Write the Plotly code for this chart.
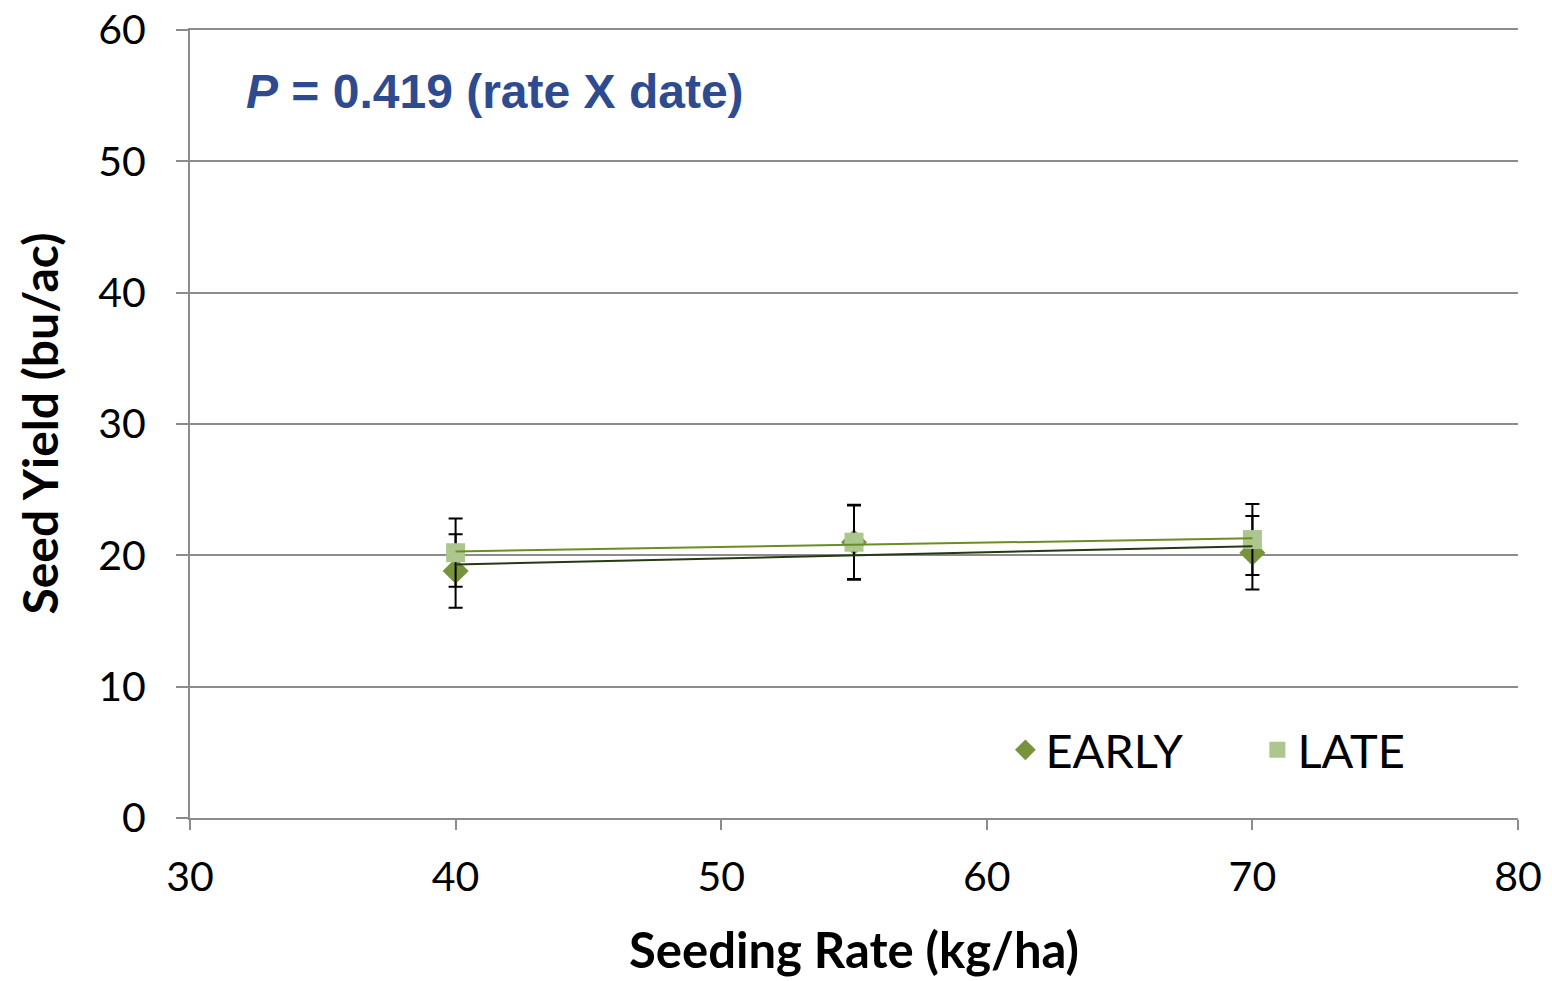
import numpy as np
import plotly.graph_objects as go

seeding_rate = [40, 55, 70]
early_yield = [18.8, 21.0, 20.2]
early_err = [2.8, 2.85, 2.8]
late_yield = [20.2, 21.0, 21.2]
late_err = [2.6, 2.8, 2.7]

x_ticks = [30, 40, 50, 60, 70, 80]
y_ticks = [0, 10, 20, 30, 40, 50, 60]

FONT = "Lato"

fig = go.Figure()

fig.add_trace(go.Scatter(
    x=seeding_rate, y=early_yield, mode="markers", name="EARLY",
    marker=dict(symbol="diamond", size=20, color="#77933C"),
    error_y=dict(type="data", array=early_err, visible=True, color="black", thickness=2, width=7),
))
fig.add_trace(go.Scatter(
    x=seeding_rate, y=late_yield, mode="markers", name="LATE",
    marker=dict(symbol="square", size=19, color="#ADC68E"),
    error_y=dict(type="data", array=late_err, visible=True, color="black", thickness=2, width=7),
))

# linear trendlines (as in the original spreadsheet chart)
xs = np.array([min(seeding_rate), max(seeding_rate)], dtype=float)
for vals, col in [(early_yield, "#253A14"), (late_yield, "#6B8E23")]:
    m, b = np.polyfit(seeding_rate, vals, 1)
    fig.add_trace(go.Scatter(x=xs, y=m * xs + b, mode="lines", showlegend=False,
                             line=dict(color=col, width=2), hoverinfo="skip"))

fig.update_layout(
    width=1552, height=981,
    margin=dict(l=190, r=34, t=30, b=163),
    plot_bgcolor="white", paper_bgcolor="white",
    font=dict(family=FONT, size=41, color="black"),
    showlegend=True,
    legend=dict(orientation="h", x=0.614, y=0.086, xanchor="left", yanchor="middle",
                font=dict(size=47, family=FONT), bgcolor="rgba(0,0,0,0)",
                entrywidth=207, itemwidth=30),
    xaxis=dict(range=[30, 80], tickvals=x_ticks, showgrid=False, showline=True, mirror=True,
               linecolor="#8C8C8C", linewidth=2, ticks="outside", ticklen=10,
               tickcolor="#8C8C8C", tickwidth=2, zeroline=False, automargin=False,
               ticklabelstandoff=12),
    yaxis=dict(range=[0, 60], tickvals=y_ticks, showgrid=True, gridcolor="#8C8C8C", gridwidth=1.5,
               showline=True, linecolor="#8C8C8C", linewidth=2, ticks="outside", ticklen=12,
               tickcolor="#8C8C8C", tickwidth=2, zeroline=False, automargin=False,
               ticklabelstandoff=22),
    annotations=[
        dict(text="<b><i>P</i> = 0.419 (rate X date)</b>",
             xref="paper", yref="paper", x=0.041, y=0.922, xanchor="left", yanchor="middle",
             showarrow=False, font=dict(size=48, family="Liberation Sans", color="#2E4B8F")),
        dict(text="<b>Seeding Rate (kg/ha)</b>", xref="paper", yref="paper",
             x=0.5, y=-0.205, xanchor="center", yanchor="bottom", showarrow=False,
             font=dict(size=49, family=FONT)),
        dict(text="<b>Seed Yield (bu/ac)</b>", xref="paper", yref="paper",
             x=-0.114, y=0.5, xanchor="center", yanchor="middle", showarrow=False,
             textangle=-90, font=dict(size=48, family=FONT)),
    ],
)

fig.write_html("out.html", config={"displayModeBar": False},
               post_script="document.body.style.margin='0px';")
